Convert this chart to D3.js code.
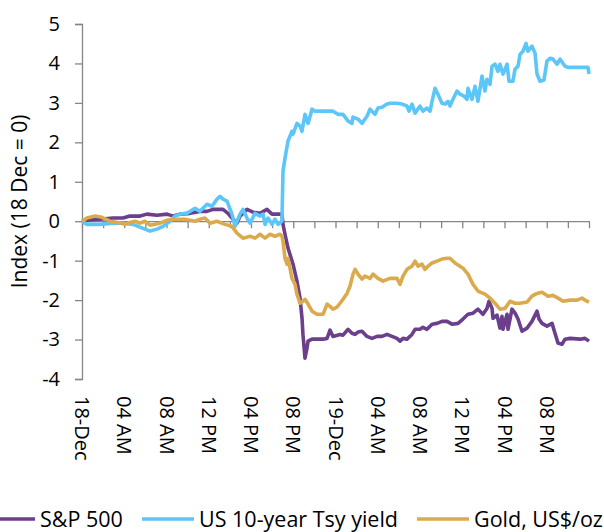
<!DOCTYPE html>
<html lang="en">
<head>
<meta charset="utf-8">
<script src="https://d3js.org/d3.v7.min.js"></script>
<style>
  body { margin: 0; background: #fff; }
  svg { font-family: "Open Sans", "Noto Sans", sans-serif; }
</style>
</head>
<body>
<div id="chart"></div>
<script>
// hours since 18-Dec 00:00, index values (18 Dec = 0)
var spxHours = [0,0.76,1.70,2.93,3.88,4.54,5.49,6.15,7.10,8.05,8.62,9.28,10.22,11.17,11.83,12.40,13.35,13.82,14.30,14.67,14.96,15.62,16.19,16.85,17.51,17.99,18.75,18.93,19.03,19.22,19.50,19.98,20.35,20.64,20.83,20.92,21.11,21.30,21.40,21.78,22.82,23.20,23.48,23.76,24.43,24.71,25.18,25.56,25.85,26.13,26.51,26.98,27.46,27.93,28.40,28.88,29.35,29.82,30.11,30.39,30.77,31.24,31.53,32.00,32.28,32.66,33.14,33.61,34.08,34.56,35.03,35.60,36.07,36.54,37.02,37.49,37.96,38.34,38.53,38.82,38.91,39.29,39.57,39.76,39.86,40.24,40.33,40.71,41.00,41.28,41.66,42.13,42.60,43.08,43.27,43.55,44.02,44.50,44.78,45.07,45.44,45.73,46.20,47.15,47.62,48.00];
var spxVals = [0,0.03,0.05,0.08,0.08,0.13,0.13,0.18,0.15,0.18,0.13,0.18,0.20,0.25,0.25,0.30,0.30,0.20,0.05,-0.05,0.13,0.30,0.23,0.20,0.30,0.18,0.18,0.18,-0.08,-0.33,-0.68,-1.09,-1.52,-1.95,-2.46,-2.87,-3.47,-3.22,-3.04,-2.99,-2.99,-2.97,-2.76,-2.92,-2.87,-2.89,-2.74,-2.84,-2.87,-2.81,-2.79,-2.92,-2.97,-2.92,-2.92,-2.87,-2.92,-2.97,-3.04,-2.97,-2.99,-2.87,-2.74,-2.74,-2.69,-2.74,-2.61,-2.59,-2.54,-2.54,-2.61,-2.59,-2.48,-2.36,-2.33,-2.23,-2.36,-2.21,-2.03,-2.21,-2.46,-2.38,-2.71,-2.41,-2.74,-2.36,-2.74,-2.23,-2.33,-2.48,-2.79,-2.71,-2.54,-2.28,-2.48,-2.59,-2.66,-2.59,-2.84,-3.09,-3.12,-2.99,-2.97,-2.99,-2.97,-3.04];

var tsyHours = [0,0.47,1.70,2.93,3.88,4.83,5.78,6.44,7.10,7.67,8.33,8.80,9.28,9.94,10.70,11.17,11.83,12.31,12.78,13.07,13.35,13.73,14.20,14.49,14.96,15.24,15.62,15.91,16.38,16.85,17.14,17.33,17.61,17.99,18.27,18.56,18.93,19.03,19.22,19.50,19.88,19.98,20.35,20.64,20.83,21.11,21.40,21.78,22.06,23.76,24.24,24.71,25.18,25.56,25.65,26.13,26.51,26.98,27.27,27.74,28.02,28.40,28.88,29.16,29.82,30.30,30.77,30.96,31.24,31.53,32.00,32.28,32.66,32.95,33.14,33.42,33.70,34.08,34.37,34.65,34.84,35.12,35.50,35.79,36.17,36.45,36.54,36.92,37.21,37.49,37.87,38.15,38.34,38.63,38.82,39.10,39.38,39.57,39.86,40.24,40.43,40.80,40.99,41.28,41.47,41.75,42.04,42.22,42.60,42.89,43.08,43.36,43.74,44.02,44.31,44.59,44.97,45.25,45.73,46.01,46.39,47.91,48.00];
var tsyVals = [0,-0.08,-0.08,-0.05,-0.05,-0.08,-0.18,-0.25,-0.20,-0.13,0.0,0.13,0.18,0.20,0.33,0.25,0.43,0.38,0.56,0.63,0.56,0.51,0.18,-0.13,0.18,0.30,0.08,-0.05,0.20,0.13,0.18,-0.08,0.08,-0.08,0.05,-0.08,0.0,1.27,1.60,2.03,2.28,2.21,2.48,2.41,2.28,2.71,2.48,2.84,2.79,2.79,2.71,2.71,2.54,2.48,2.64,2.59,2.48,2.66,2.84,2.71,2.87,2.89,2.97,2.99,2.99,2.97,2.92,2.79,2.97,2.74,2.92,2.79,2.87,2.79,3.04,3.37,3.22,2.99,2.97,3.04,2.92,3.09,3.30,3.22,3.17,3.09,3.37,3.09,3.42,3.04,3.68,3.30,3.60,3.47,3.93,3.98,3.80,3.98,3.73,3.98,3.55,3.55,3.85,3.93,4.23,4.31,4.51,4.31,4.44,4.26,3.73,3.55,3.58,4.06,4.13,4.11,3.98,4.11,3.93,3.90,3.90,3.90,3.73];

var goldHours = [0,0.47,1.23,1.89,2.65,3.41,4.07,4.54,5.02,5.49,5.96,6.44,7.38,8.14,8.80,9.75,10.70,11.17,11.64,12.12,12.78,13.54,14.20,14.67,15.24,15.91,16.38,16.85,17.33,17.80,18.27,18.75,18.93,19.03,19.22,19.41,19.50,19.69,19.88,20.17,20.35,20.64,20.92,21.11,21.40,21.78,22.25,22.82,23.20,23.48,23.76,24.14,24.43,24.71,25.09,25.37,25.66,25.85,26.13,26.51,26.79,27.27,27.55,28.02,28.50,29.16,29.82,30.11,30.39,30.77,31.24,31.53,31.81,32.19,32.47,32.76,33.14,33.61,34.08,34.56,34.84,35.31,36.07,36.54,37.02,37.49,38.15,38.63,39.10,39.57,40.05,40.52,41.00,41.47,42.13,42.60,43.08,43.55,44.12,44.59,45.07,45.54,46.20,46.86,47.34,47.81,48.00];
var goldVals = [0,0.08,0.13,0.10,0.0,-0.03,-0.08,-0.03,0.0,-0.05,0.0,-0.10,-0.05,0.03,0.05,0.05,0.0,0.05,0.08,-0.05,0.0,-0.08,-0.13,-0.30,-0.43,-0.38,-0.43,-0.33,-0.43,-0.33,-0.38,-0.33,-0.38,-0.51,-0.94,-1.09,-0.94,-1.19,-1.45,-1.60,-1.85,-2.08,-2.03,-1.98,-2.10,-2.28,-2.36,-2.36,-2.10,-2.16,-2.23,-2.18,-2.08,-1.98,-1.83,-1.65,-1.34,-1.22,-1.34,-1.47,-1.39,-1.45,-1.34,-1.45,-1.52,-1.45,-1.45,-1.60,-1.39,-1.22,-1.14,-1.01,-1.14,-1.09,-1.22,-1.14,-1.06,-1.01,-0.96,-0.94,-0.94,-1.06,-1.19,-1.34,-1.60,-1.77,-1.85,-1.95,-2.08,-2.23,-2.21,-2.03,-2.08,-2.08,-2.05,-1.90,-1.83,-1.80,-1.90,-1.88,-1.95,-2.03,-2.00,-2.00,-1.95,-2.03,-2.05];

var tickHours = [0,4,8,12,16,20,24,28,32,36,40,44];
var tickLabels = ["18-Dec","04 AM","08 AM","12 PM","04 PM","08 PM","19-Dec","04 AM","08 AM","12 PM","04 PM","08 PM"];
var yTicks = [-4,-3,-2,-1,0,1,2,3,4,5];

var seriesNames = ["S&P 500", "US 10-year Tsy yield", "Gold, US$/oz"];
var seriesColors = ["#6b3f8c", "#5dc6f8", "#dbaa4c"];

var W = 604, H = 532;
var margin = {top: 24, right: 15, bottom: 153, left: 82};
var width = 589 - margin.left,
    height = 379 - margin.top;

var svg = d3.select("#chart").append("svg")
    .attr("width", W).attr("height", H);
var g = svg.append("g")
    .attr("transform", "translate(" + margin.left + "," + margin.top + ")");

var x = d3.scaleLinear().domain([0, 48]).range([0, width]);
var y = d3.scaleLinear().domain([-4, 5]).range([height, 0]);

// y axis (plain hyphen for negatives, like the original)
var yAxis = g.append("g")
    .call(d3.axisLeft(y).tickValues(yTicks).tickFormat(function(d) { return String(d); }).tickSize(7).tickPadding(15));
yAxis.select(".domain").attr("stroke", "#868686").attr("stroke-width", 1.3);
yAxis.selectAll(".tick line").attr("stroke", "#868686").attr("stroke-width", 1.3);
yAxis.selectAll("text").attr("font-size", 20).attr("fill", "#000").attr("font-family", "Open Sans");

// x axis sitting on zero line, ticks every 2 hours
var xAxis = g.append("g")
    .attr("transform", "translate(0," + y(0) + ")")
    .call(d3.axisBottom(x).tickValues(d3.range(0, 49, 2)).tickFormat("").tickSize(7).tickSizeOuter(0));
xAxis.select(".domain").attr("stroke", "#868686").attr("stroke-width", 1.3);
xAxis.selectAll(".tick line").attr("stroke", "#868686").attr("stroke-width", 1.3);

// x labels at the bottom, rotated
g.append("g").selectAll("text")
  .data(tickHours)
  .enter().append("text")
    .attr("transform", function(d) { return "translate(" + x(d) + "," + (height + 17) + ") rotate(90)"; })
    .attr("dy", "0.35em")
    .attr("text-anchor", "start")
    .attr("font-size", 20)
    .text(function(d, i) { return tickLabels[i]; });

// y title
svg.append("text")
    .attr("transform", "translate(27," + (margin.top + height / 2) + ") rotate(-90)")
    .attr("text-anchor", "middle")
    .attr("font-size", 21)
    .text("Index (18 Dec = 0)");

// lines
var line = d3.line()
    .x(function(d) { return x(d[0]); })
    .y(function(d) { return y(d[1]); });

var allSeries = [
  d3.zip(spxHours, spxVals),
  d3.zip(tsyHours, tsyVals),
  d3.zip(goldHours, goldVals)
];
g.selectAll("path.series")
  .data(allSeries)
  .enter().append("path")
    .attr("class", "series")
    .attr("fill", "none")
    .attr("stroke", function(d, i) { return seriesColors[i]; })
    .attr("stroke-width", 3.6)
    .attr("stroke-linejoin", "round")
    .attr("d", line);

// legend
var legendX = [-17, 142, 417];
var leg = svg.append("g").attr("transform", "translate(0,519)");
seriesNames.forEach(function(name, i) {
  leg.append("line")
    .attr("x1", legendX[i]).attr("x2", legendX[i] + 52)
    .attr("stroke", seriesColors[i]).attr("stroke-width", 3.5);
  leg.append("text")
    .attr("x", legendX[i] + 57).attr("dy", "0.35em")
    .attr("font-size", 21.5)
    .text(name);
});
</script>
</body>
</html>
